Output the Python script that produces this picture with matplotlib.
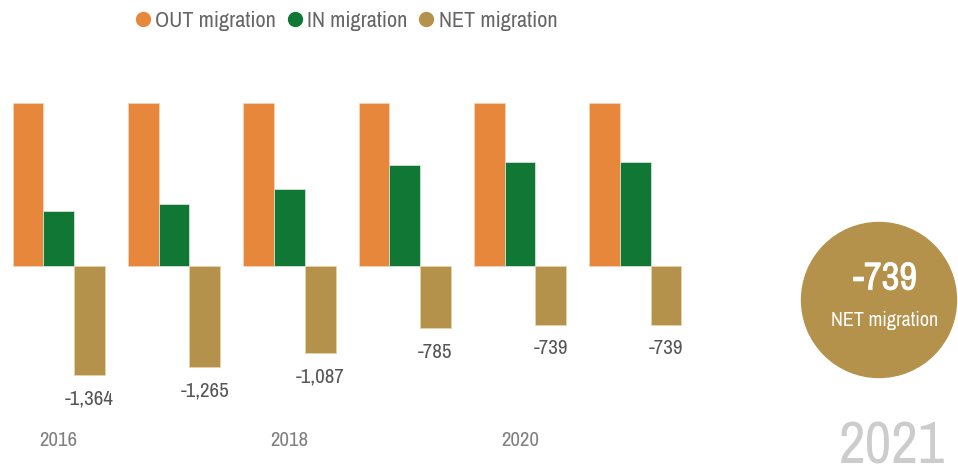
import matplotlib
matplotlib.use("Agg")
import matplotlib.pyplot as plt
from matplotlib.patches import Ellipse
from matplotlib.lines import Line2D
import matplotlib.patheffects as pe
import numpy as np

# Migration figures by year
years = [2016, 2017, 2018, 2019, 2020, 2021]
out_migration = [2050, 2050, 2050, 2050, 2050, 2050]
in_migration = [686, 785, 963, 1265, 1311, 1311]
net_migration = [-1364, -1265, -1087, -785, -739, -739]

ORANGE = "#E6873C"
GREEN = "#117735"
GOLD = "#B5924C"

plt.rcParams["font.family"] = ["Archivo Narrow", "DejaVu Sans"]

W, H = 958, 467
fig = plt.figure(figsize=(W / 100, H / 100), dpi=100)
ax = fig.add_axes([0, 0, 1, 1])

x = np.arange(len(years))
width = 0.8 / 3
ax.bar(x - width, out_migration, width, color=ORANGE, edgecolor="#f6d3b4", linewidth=0.6)
ax.bar(x, in_migration, width, color=GREEN, edgecolor="#cfe3d5", linewidth=0.6)
net_bars = ax.bar(x + width, net_migration, width, color=GOLD, edgecolor="#e6d3a8", linewidth=0.6)

# value labels under the NET bars
for rect, v in zip(net_bars, net_migration):
    ax.annotate(f"{v:,}", (rect.get_x() + rect.get_width() / 2, v),
                xytext=(0, -24), textcoords="offset pixels",
                ha="center", va="center", fontsize=15, color="#555555")

# pixel scale: 115.3 px per category, group 0 centered at 58.8 px, baseline at 266 px
px_per_cat = 115.3
px_per_unit = 0.0796
ax.set_xlim(-58.8 / px_per_cat, (W - 58.8) / px_per_cat)
ax.set_ylim(-(H - 266) / px_per_unit, 266 / px_per_unit)
ax.axis("off")

# every other year labelled under its group
for i in x[::2]:
    ax.text(i, 1 - 441 / H, str(years[i]), transform=ax.get_xaxis_transform(),
            ha="center", va="center", fontsize=15, color="#808080")

# legend across the top
handles = [Line2D([], [], marker="o", linestyle="", markersize=10, color=c)
           for c in (ORANGE, GREEN, GOLD)]
fig.legend(handles, ["OUT migration", "IN migration", "NET migration"],
           loc="center", bbox_to_anchor=(344 / W, 1 - 21 / H), ncol=3,
           frameon=False, fontsize=16, labelcolor="#666666",
           handletextpad=0.0, columnspacing=0.3, handlelength=1.1)

# highlight circle for the latest NET value
cx, cy, d = 879, 300, 155
fig.add_artist(Ellipse((cx / W, 1 - cy / H), d / W, d / H,
                       transform=fig.transFigure, color=GOLD))
fig.text((cx + 6) / W, 1 - 279 / H, f"{net_migration[-1]:,}", ha="center", va="center",
         fontsize=28, color="white",
         path_effects=[pe.withStroke(linewidth=0.6, foreground="white")])
fig.text((cx + 6) / W, 1 - 321 / H, "NET migration", ha="center", va="center",
         fontsize=14.5, color="white")
fig.text(892 / W, 1 - 463 / H, str(years[-1]), ha="center", va="baseline",
         fontsize=42, color="#cccccc")

fig.savefig("out.png", dpi=100)
